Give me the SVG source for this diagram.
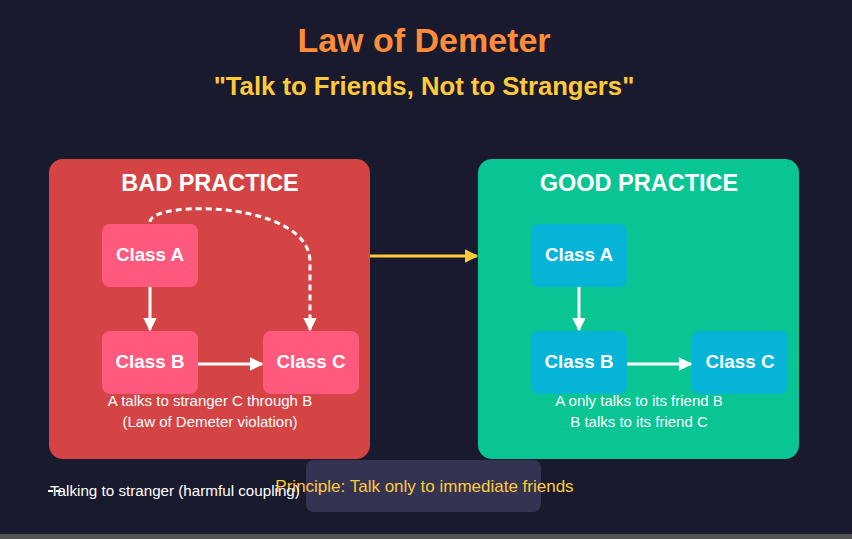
<svg xmlns="http://www.w3.org/2000/svg" width="852" height="539" viewBox="0 0 852 539">
<defs>
<style>
text{font-family:"Liberation Sans",Arial,sans-serif}
.t{fill:#fff;font-weight:bold;text-anchor:middle}
.cap{fill:#fff;font-size:15px;text-anchor:middle}
.bad{fill:#ff5a7e}
.good{fill:#06b4d8}
.ln{stroke:#fff;stroke-width:3;fill:none}
</style>
<marker id="aw" viewBox="0 0 10 10" refX="9" refY="5" markerWidth="4.5" markerHeight="4.5" orient="auto" markerUnits="strokeWidth"><path d="M0,0 L10,5 L0,10 z" fill="#fff"/></marker>
<marker id="ay" viewBox="0 0 10 10" refX="9" refY="5" markerWidth="4.5" markerHeight="4.5" orient="auto" markerUnits="strokeWidth"><path d="M0,0 L10,5 L0,10 z" fill="#ffc93c"/></marker>
</defs>
<rect width="852" height="539" fill="#1a1a2e"/>
<rect x="0" y="534" width="852" height="5" fill="#555"/>
<text x="424" y="52" font-size="34" font-weight="bold" fill="#ff8c38" text-anchor="middle">Law of Demeter</text>
<text x="424" y="95" font-size="25.7" font-weight="bold" fill="#ffca3a" text-anchor="middle">"Talk to Friends, Not to Strangers"</text>
<g id="bad-panel">
<rect x="49" y="159" width="321" height="300" rx="14" fill="#d44444"/>
<text class="t" x="210" y="191" font-size="23.5">BAD PRACTICE</text>
<text class="cap" x="210" y="406">A talks to stranger C through B</text>
<text class="cap" x="210" y="427">(Law of Demeter violation)</text>
</g>
<g id="bad-a"><rect class="bad" x="102" y="224" width="96" height="63" rx="8"/><text class="t" x="150" y="261" font-size="18.8">Class A</text></g>
<g id="bad-b"><rect class="bad" x="102" y="331" width="96" height="63" rx="8"/><text class="t" x="150" y="368" font-size="18.8">Class B</text></g>
<g id="bad-c"><rect class="bad" x="263" y="331" width="96" height="63" rx="8"/><text class="t" x="311" y="368" font-size="18.8">Class C</text></g>
<g id="good-panel">
<rect x="478" y="159" width="321" height="300" rx="14" fill="#09c493"/>
<text class="t" x="639" y="191" font-size="23.5">GOOD PRACTICE</text>
<text class="cap" x="639" y="406">A only talks to its friend B</text>
<text class="cap" x="639" y="427">B talks to its friend C</text>
</g>
<g id="good-a"><rect class="good" x="531" y="224" width="96" height="63" rx="8"/><text class="t" x="579" y="261" font-size="18.8">Class A</text></g>
<g id="good-b"><rect class="good" x="531" y="331" width="96" height="63" rx="8"/><text class="t" x="579" y="368" font-size="18.8">Class B</text></g>
<g id="good-c"><rect class="good" x="692" y="331" width="96" height="63" rx="8"/><text class="t" x="740" y="368" font-size="18.8">Class C</text></g>
<g id="principle">
<rect x="306" y="460" width="235" height="52" rx="8" fill="#343452"/>
<text x="424.5" y="492" font-size="17" fill="#ffca3a" text-anchor="middle">Principle: Talk only to immediate friends</text>
</g>
<g id="legend">
<line x1="48" y1="491" x2="64" y2="491" stroke="#fff" stroke-width="2" stroke-dasharray="5,3"/>
<text x="50" y="496" font-size="15.2" fill="#fff">Talking to stranger (harmful coupling)</text>
</g>
<g id="connectors">
<line class="ln" x1="150" y1="287" x2="150" y2="330" marker-end="url(#aw)"/>
<line class="ln" x1="198" y1="364" x2="262" y2="364" marker-end="url(#aw)"/>
<path class="ln" d="M150,222 C150,200 310,200 310,262 L310,330" stroke-dasharray="6,4" marker-end="url(#aw)"/>
<line class="ln" x1="579" y1="287" x2="579" y2="330" marker-end="url(#aw)"/>
<line class="ln" x1="627" y1="364" x2="691" y2="364" marker-end="url(#aw)"/>
<line x1="370" y1="256" x2="477" y2="256" stroke="#ffc93c" stroke-width="3" marker-end="url(#ay)"/>
</g>
</svg>
